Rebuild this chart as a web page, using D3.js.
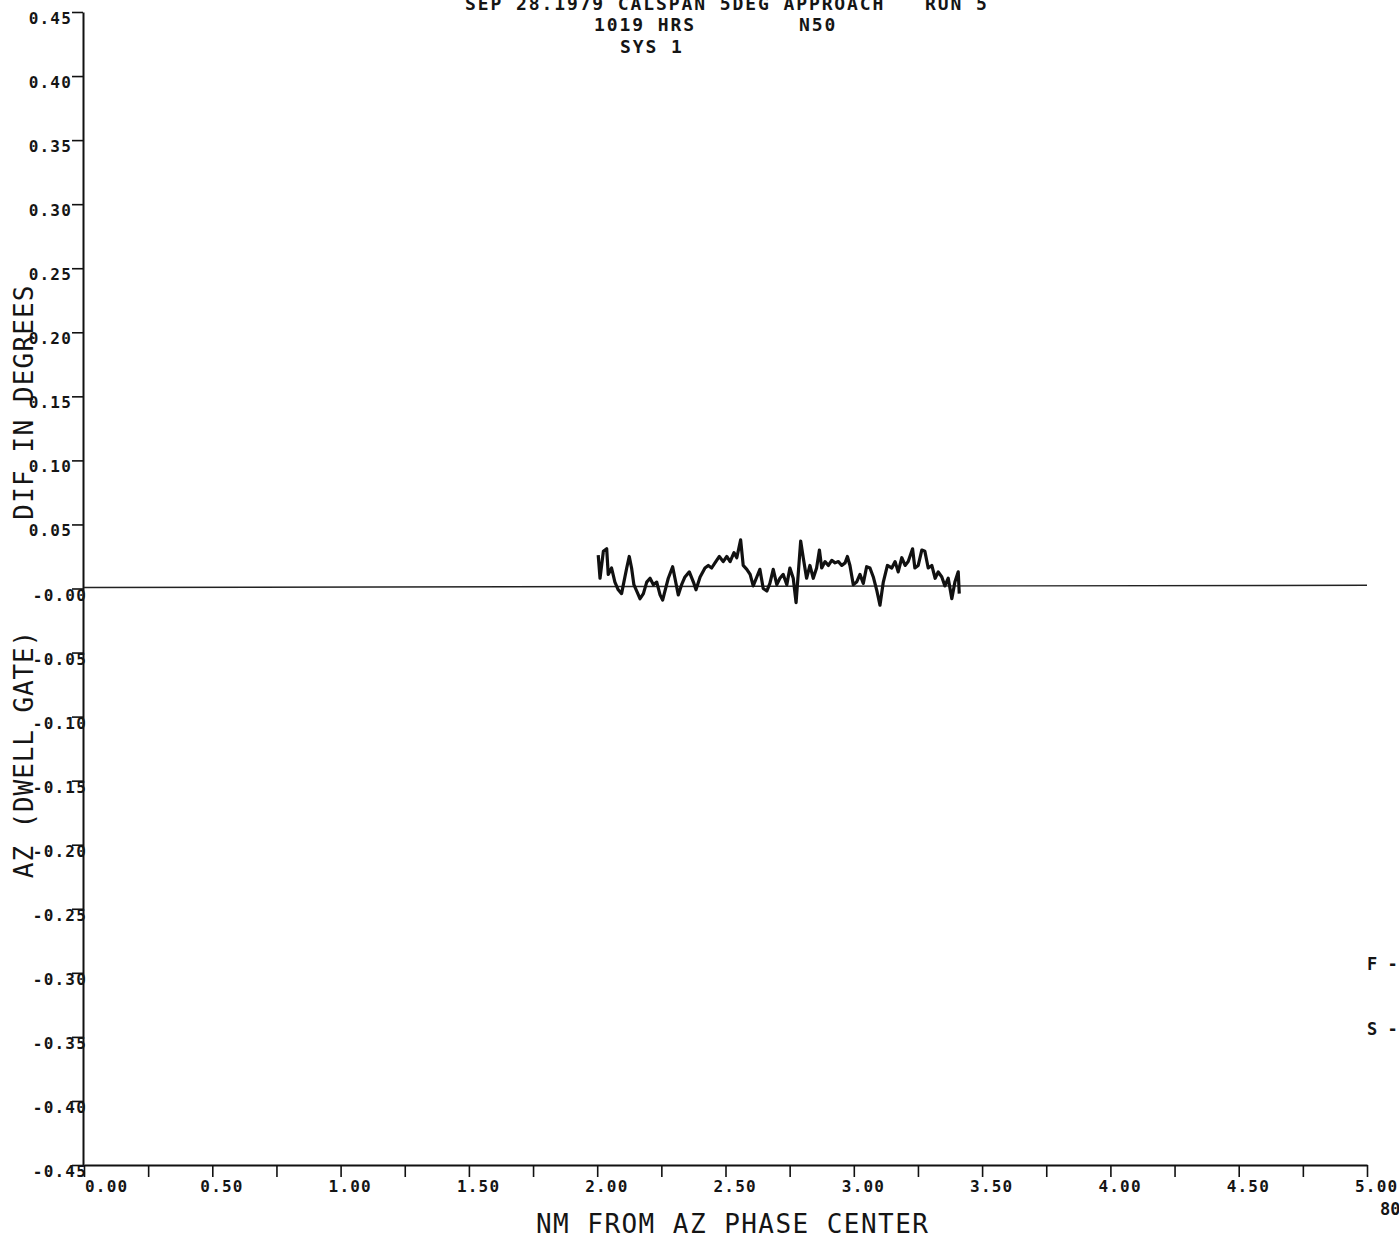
<!DOCTYPE html>
<html>
<head>
  <title>AZ DIF</title>
  <meta charset="utf-8">
  <script src="https://d3js.org/d3.v7.min.js"></script>
  <style>
    body { margin: 0; background: #fff; }
    svg text { font-family: "DejaVu Sans Mono", monospace; fill: #151515; }
    .axis path, .axis line { stroke: #111; }
    .lbl { font-weight: bold; }
  </style>
</head>
<body>
  <svg width="1399" height="1239"></svg>
  <script>
    // tick values and labels as printed on the plot
    const yTicks = [0.45, 0.40, 0.35, 0.30, 0.25, 0.20, 0.15, 0.10, 0.05, 0.00,
      -0.05, -0.10, -0.15, -0.20, -0.25, -0.30, -0.35, -0.40, -0.45];
    const yTickLabels = ["0.45", "0.40", "0.35", "0.30", "0.25", "0.20", "0.15", "0.10", "0.05", "-0.00",
      "-0.05", "-0.10", "-0.15", "-0.20", "-0.25", "-0.30", "-0.35", "-0.40", "-0.45"];
    const xTicks = [0, 0.5, 1, 1.5, 2, 2.5, 3, 3.5, 4, 4.5, 5];
    const xTickLabels = ["0.00", "0.50", "1.00", "1.50", "2.00", "2.50", "3.00", "3.50", "4.00", "4.50", "5.00"];
    const xMinorTicks = [0.25, 0.75, 1.25, 1.75, 2.25, 2.75, 3.25, 3.75, 4.25, 4.75];

    // measured trace (NM from AZ phase center, dif in degrees)
    const distNm = [2.004, 2.011, 2.024, 2.037, 2.043, 2.056, 2.069, 2.082, 2.095, 2.102,
      2.115, 2.125, 2.134, 2.143, 2.154, 2.167, 2.180, 2.193, 2.206, 2.219,
      2.232, 2.245, 2.255, 2.264, 2.277, 2.294, 2.303, 2.316, 2.329, 2.342,
      2.359, 2.375, 2.385, 2.401, 2.420, 2.433, 2.446, 2.459, 2.476, 2.491,
      2.505, 2.518, 2.533, 2.544, 2.559, 2.569, 2.583, 2.596, 2.608, 2.622,
      2.634, 2.647, 2.661, 2.673, 2.686, 2.700, 2.712, 2.725, 2.739, 2.751,
      2.764, 2.775, 2.784, 2.793, 2.803, 2.816, 2.829, 2.842, 2.855, 2.866,
      2.875, 2.888, 2.901, 2.914, 2.927, 2.940, 2.953, 2.966, 2.975, 2.985,
      2.998, 3.011, 3.024, 3.037, 3.050, 3.063, 3.076, 3.089, 3.102, 3.115,
      3.131, 3.148, 3.161, 3.173, 3.187, 3.200, 3.212, 3.229, 3.238, 3.251,
      3.265, 3.277, 3.290, 3.304, 3.317, 3.329, 3.343, 3.355, 3.368, 3.382,
      3.394, 3.407, 3.411];
    const azDif = [0.026, 0.008, 0.029, 0.031, 0.011, 0.016, 0.005, -0.001, -0.004, 0.003,
      0.016, 0.025, 0.016, 0.003, -0.002, -0.008, -0.004, 0.005, 0.008, 0.003,
      0.005, -0.005, -0.009, -0.002, 0.008, 0.017, 0.008, -0.005, 0.003, 0.009,
      0.013, 0.005, -0.001, 0.009, 0.016, 0.018, 0.016, 0.020, 0.025, 0.021,
      0.025, 0.021, 0.028, 0.024, 0.038, 0.018, 0.015, 0.011, 0.002, 0.009,
      0.015, 0.000, -0.002, 0.004, 0.015, 0.003, 0.008, 0.011, 0.003, 0.016,
      0.008, -0.011, 0.013, 0.037, 0.024, 0.008, 0.018, 0.008, 0.016, 0.030,
      0.016, 0.021, 0.018, 0.022, 0.020, 0.021, 0.018, 0.020, 0.025, 0.018,
      0.003, 0.005, 0.011, 0.004, 0.017, 0.016, 0.009, -0.001, -0.013, 0.005,
      0.018, 0.016, 0.021, 0.013, 0.024, 0.018, 0.021, 0.031, 0.016, 0.018,
      0.030, 0.029, 0.016, 0.018, 0.008, 0.013, 0.009, 0.002, 0.008, -0.008,
      0.005, 0.013, -0.004];

    // zero reference line across the plot
    const refDist = [0, 5];
    const refDif = [0.0008, 0.0025];

    const svg = d3.select('svg');
    const x = d3.scaleLinear().domain([0, 5]).range([84, 1367]);
    const y = d3.scaleLinear().domain([-0.45, 0.45]).range([1165, 12]);

    // y axis (ticks only, labels drawn separately)
    svg.append('g')
      .attr('class', 'axis')
      .attr('transform', 'translate(83,0)')
      .call(d3.axisLeft(y).tickValues(yTicks).tickSize(11).tickSizeOuter(0).tickFormat(''))
      .call(g => g.select('.domain').attr('stroke-width', 2))
      .call(g => g.selectAll('.tick line').attr('stroke-width', 1.6));

    svg.append('g').selectAll('text')
      .data(yTicks)
      .join('text')
      .attr('class', 'lbl')
      .attr('x', d => d >= 0.05 ? 72 : 87)
      .attr('y', d => y(d) + 12)
      .attr('text-anchor', 'end')
      .style('font-size', '16px')
      .style('letter-spacing', '1.2px')
      .text((d, i) => yTickLabels[i]);

    // x axis
    svg.append('g')
      .attr('class', 'axis')
      .attr('transform', 'translate(0,1165)')
      .call(d3.axisBottom(x).tickValues(xTicks.concat(xMinorTicks)).tickSize(12).tickSizeOuter(0).tickFormat(''))
      .call(g => g.select('.domain').attr('stroke-width', 2))
      .call(g => g.selectAll('.tick line').attr('stroke-width', 1.6));

    svg.append('g').selectAll('text')
      .data(xTicks)
      .join('text')
      .attr('class', 'lbl')
      .attr('x', d => d === 0 ? x(d) + 1 : x(d) - 12)
      .attr('y', 1192)
      .style('font-size', '16px')
      .style('letter-spacing', '1.2px')
      .text((d, i) => xTickLabels[i]);

    // reference line and trace
    const line = d3.line().x(d => x(d[0])).y(d => y(d[1]));
    svg.append('path')
      .datum(d3.zip(refDist, refDif))
      .attr('d', line)
      .attr('fill', 'none')
      .attr('stroke', '#222')
      .attr('stroke-width', 1.4);

    svg.append('path')
      .datum(d3.zip(distNm, azDif))
      .attr('d', line)
      .attr('fill', 'none')
      .attr('stroke', '#111')
      .attr('stroke-width', 3.2)
      .attr('stroke-linejoin', 'round');

    // header
    const head = [
      { t: 'SEP 28.1979 CALSPAN 5DEG APPROACH', x: 465, y: 10 },
      { t: 'RUN 5', x: 925, y: 10 },
      { t: '1019 HRS', x: 594, y: 31 },
      { t: 'N50', x: 799, y: 31 },
      { t: 'SYS 1', x: 620, y: 53 }
    ];
    svg.append('g').selectAll('text')
      .data(head)
      .join('text')
      .attr('class', 'lbl')
      .attr('x', d => d.x)
      .attr('y', d => d.y)
      .style('font-size', '18px')
      .style('letter-spacing', '1.9px')
      .text(d => d.t);

    // axis titles
    svg.append('text')
      .attr('x', 536)
      .attr('y', 1233)
      .style('font-size', '26px')
      .style('letter-spacing', '1.45px')
      .text('NM FROM AZ PHASE CENTER');

    svg.append('text')
      .attr('transform', 'translate(33,402) rotate(-90)')
      .attr('text-anchor', 'middle')
      .style('font-size', '26px')
      .style('letter-spacing', '1.15px')
      .text('DIF IN DEGREES');

    svg.append('text')
      .attr('transform', 'translate(33,754) rotate(-90)')
      .attr('text-anchor', 'middle')
      .style('font-size', '26px')
      .style('letter-spacing', '0.9px')
      .text('AZ (DWELL GATE)');

    // margin notes at right
    const notes = [
      { t: 'F -', x: 1367, y: 970 },
      { t: 'S -', x: 1367, y: 1035 },
      { t: '80', x: 1380, y: 1215 }
    ];
    svg.append('g').selectAll('text')
      .data(notes)
      .join('text')
      .attr('class', 'lbl')
      .attr('x', d => d.x)
      .attr('y', d => d.y)
      .style('font-size', '17px')
      .text(d => d.t);
  </script>
</body>
</html>
